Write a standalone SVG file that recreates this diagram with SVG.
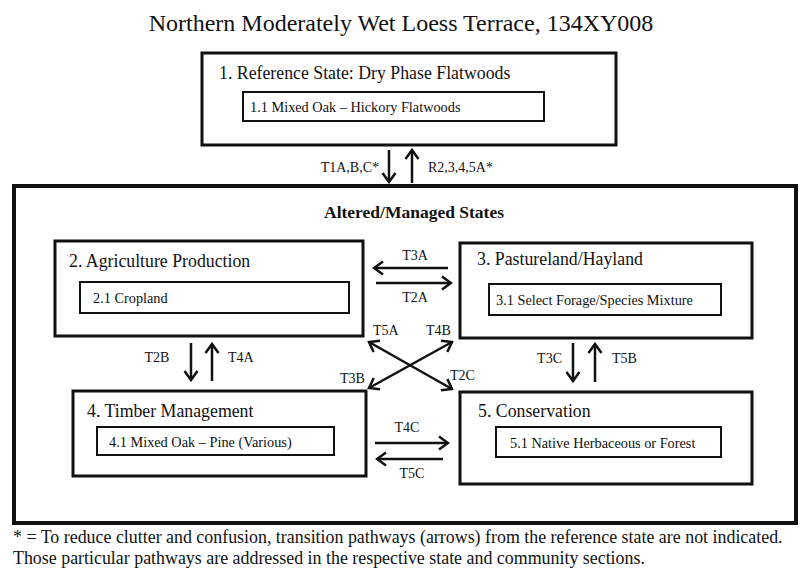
<svg xmlns="http://www.w3.org/2000/svg" width="800" height="581" viewBox="0 0 800 581">
<style>
.t{font-family:"Liberation Serif","Times New Roman",serif;fill:#111}
.title{font-size:24px}
.st{font-size:17.8px}
.cm{font-size:14.3px}
.lb{font-size:14px}
.fn{font-size:17.9px}
.box{fill:#fff;stroke:#111;stroke-width:3}
.inner{fill:#fff;stroke:#111;stroke-width:2}
.ar{stroke:#111;stroke-width:2.5;fill:none;marker-end:url(#ah)}
.ar2{stroke:#111;stroke-width:2.5;fill:none;marker-end:url(#ah);marker-start:url(#ah)}
</style>
<defs>
<marker id="ah" viewBox="-12 -8 14 16" refX="0" refY="0" markerWidth="14" markerHeight="16" markerUnits="userSpaceOnUse" orient="auto-start-reverse">
<path d="M-9,-6.5 L0,0 L-9,6.5" fill="none" stroke="#111" stroke-width="2.5"/>
</marker>
</defs>
<rect width="800" height="581" fill="#fff"/>
<text class="t title" x="401" y="31" text-anchor="middle">Northern Moderately Wet Loess Terrace, 134XY008</text>

<g id="outer">
<rect x="14" y="186" width="782" height="337" fill="none" stroke="#111" stroke-width="4"/>
<text class="t" x="414" y="218" text-anchor="middle" font-size="17.5" font-weight="bold">Altered/Managed States</text>
</g>

<g id="state1">
<rect class="box" x="202" y="53" width="414" height="92"/>
<text class="t st" x="219" y="79">1. Reference State: Dry Phase Flatwoods</text>
<rect class="inner" x="243" y="92" width="301" height="29"/>
<text class="t cm" x="250" y="112">1.1 Mixed Oak – Hickory Flatwoods</text>
</g>

<g id="state2">
<rect class="box" x="55" y="241" width="308" height="95"/>
<text class="t st" x="69" y="267">2. Agriculture Production</text>
<rect class="inner" x="80" y="282" width="269" height="31"/>
<text class="t cm" x="93" y="303">2.1 Cropland</text>
</g>

<g id="state3">
<rect class="box" x="460" y="243" width="292" height="95"/>
<text class="t st" x="477" y="265">3. Pastureland/Hayland</text>
<rect class="inner" x="489" y="284" width="232" height="31"/>
<text class="t cm" x="496" y="305">3.1 Select Forage/Species Mixture</text>
</g>

<g id="state4">
<rect class="box" x="73" y="391" width="293" height="85"/>
<text class="t st" x="87" y="417">4. Timber Management</text>
<rect class="inner" x="97" y="427" width="237" height="28"/>
<text class="t cm" x="109" y="447">4.1 Mixed Oak – Pine (Various)</text>
</g>

<g id="state5">
<rect class="box" x="460" y="392" width="292" height="92"/>
<text class="t st" x="478" y="417">5. Conservation</text>
<rect class="inner" x="496" y="427" width="225" height="30"/>
<text class="t cm" x="510" y="448">5.1 Native Herbaceous or Forest</text>
</g>

<g id="connectors">
<line class="ar" x1="389" y1="150" x2="389" y2="182"/>
<line class="ar" x1="412" y1="183" x2="412" y2="150"/>
<text class="t lb" x="379" y="172" text-anchor="end">T1A,B,C*</text>
<text class="t lb" x="428" y="172">R2,3,4,5A*</text>

<line class="ar" x1="448" y1="268" x2="374" y2="268"/>
<line class="ar" x1="376" y1="283" x2="451" y2="283"/>
<text class="t lb" x="415" y="260" text-anchor="middle">T3A</text>
<text class="t lb" x="415" y="302" text-anchor="middle">T2A</text>

<line class="ar" x1="191" y1="343" x2="191" y2="380"/>
<line class="ar" x1="212" y1="381" x2="212" y2="344"/>
<text class="t lb" x="157" y="362" text-anchor="middle">T2B</text>
<text class="t lb" x="228" y="362">T4A</text>

<line class="ar" x1="573" y1="343" x2="573" y2="381"/>
<line class="ar" x1="595" y1="382" x2="595" y2="344"/>
<text class="t lb" x="562" y="363" text-anchor="end">T3C</text>
<text class="t lb" x="612" y="363">T5B</text>

<line class="ar2" x1="369" y1="342" x2="452" y2="389"/>
<line class="ar2" x1="369" y1="388" x2="452" y2="342"/>
<text class="t lb" x="373" y="335">T5A</text>
<text class="t lb" x="426" y="335">T4B</text>
<text class="t lb" x="340" y="383">T3B</text>
<text class="t lb" x="450" y="380">T2C</text>

<line class="ar" x1="375" y1="443" x2="448" y2="443"/>
<line class="ar" x1="443" y1="459" x2="377" y2="459"/>
<text class="t lb" x="407" y="432" text-anchor="middle">T4C</text>
<text class="t lb" x="412" y="478" text-anchor="middle">T5C</text>
</g>

<text class="t fn" x="13" y="543">* = To reduce clutter and confusion, transition pathways (arrows) from the reference state are not indicated.</text>
<text class="t fn" x="13" y="564">Those particular pathways are addressed in the respective state and community sections.</text>
</svg>
